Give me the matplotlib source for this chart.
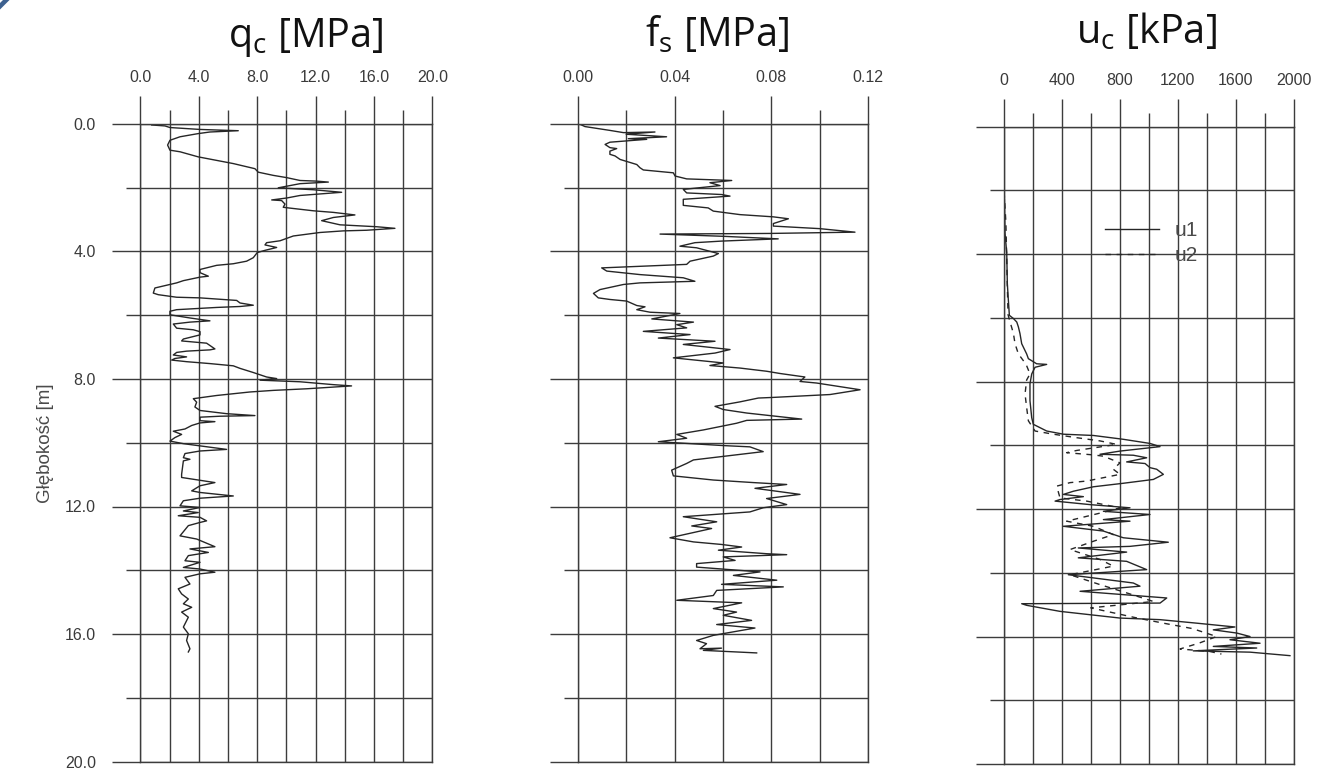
import numpy as np
import matplotlib
matplotlib.use("Agg")
import matplotlib.pyplot as plt
from matplotlib.patches import Polygon

## DATA ##

# cone resistance q_c [MPa] vs depth [m]
qc_depth = [0.04, 0.07, 0.12, 0.18, 0.22, 0.26, 0.31, 0.41, 0.52, 0.67,
            0.83, 0.88, 1.04, 1.15, 1.25, 1.41, 1.52, 1.62, 1.69, 1.78,
            1.80, 1.83, 1.88, 2.01, 2.07, 2.15, 2.25, 2.33, 2.39, 2.41,
            2.52, 2.62, 2.64, 2.73, 2.78, 2.86, 2.94, 3.04, 3.17, 3.23,
            3.28, 3.34, 3.36, 3.41, 3.52, 3.67, 3.73, 3.80, 3.88, 3.97,
            4.04, 4.20, 4.31, 4.39, 4.44, 4.57, 4.67, 4.78, 4.81, 4.92,
            4.99, 5.04, 5.15, 5.31, 5.36, 5.44, 5.46, 5.54, 5.62, 5.69,
            5.73, 5.76, 5.83, 5.88, 5.99, 6.09, 6.18, 6.22, 6.28, 6.41,
            6.46, 6.52, 6.62, 6.75, 6.81, 6.88, 7.06, 7.09, 7.13, 7.17,
            7.25, 7.31, 7.36, 7.41, 7.46, 7.52, 7.59, 7.67, 7.80, 7.94,
            7.99, 8.04, 8.09, 8.18, 8.22, 8.31, 8.36, 8.41, 8.52, 8.62,
            8.73, 8.88, 8.99, 9.09, 9.15, 9.17, 9.20, 9.31, 9.34, 9.38,
            9.46, 9.57,
            9.64, 9.74, 9.84, 9.95, 10.03, 10.10, 10.21, 10.26, 10.34, 10.47,
            10.52, 10.57, 10.99, 11.09, 11.18, 11.25, 11.35, 11.51, 11.56, 11.67,
            11.74, 11.82, 11.98, 12.03, 12.14, 12.19, 12.29, 12.34, 12.45, 12.50,
            12.60, 12.92, 13.02, 13.26, 13.33, 13.44, 13.54, 13.70, 13.75, 13.91,
            13.96, 14.06, 14.11, 14.22, 14.43, 14.58, 14.74, 14.90, 15.05, 15.16,
            15.31, 15.47, 15.78, 15.99, 16.20, 16.46, 16.56]
qc_val = [0.78, 1.69, 2.03, 4.09, 6.71, 4.77, 3.97, 2.72, 2.03, 1.87,
          2.03, 2.72, 3.97, 5.23, 6.37, 7.85, 8.08, 9.11, 10.02, 10.94,
          12.08, 12.88, 10.94, 9.45, 11.85, 13.79, 10.94, 10.02, 9.00, 9.68,
          9.91, 9.79, 10.14, 11.85, 13.22, 14.70, 13.22, 12.42, 13.68, 16.19,
          17.44, 15.50, 13.90, 12.31, 10.48, 9.57, 8.65, 8.54, 9.34, 8.54,
          8.01, 7.74, 7.28, 6.37, 5.23, 4.09, 4.09, 4.66, 4.09, 2.95,
          2.49, 2.03, 1.00, 0.89, 1.23, 2.49, 4.09, 6.60, 6.83, 7.74,
          6.83, 5.23, 2.49, 2.03, 2.03, 3.40, 4.77, 3.40, 2.26, 2.49,
          3.63, 4.09, 4.09, 2.95, 2.83, 4.54, 5.11, 4.77, 3.17, 2.49,
          2.26, 3.17, 2.37, 2.15, 3.17, 4.77, 6.37, 6.83, 7.74, 8.65,
          9.34, 8.20, 10.94, 13.22, 14.47, 11.39, 9.11, 7.51, 5.23, 3.63,
          3.86, 3.74, 4.09, 5.91, 7.85, 5.46, 4.09, 4.09, 5.11, 4.09,
          3.52, 3.06,
          2.26, 2.83, 2.37, 2.03, 2.95, 4.09, 5.91, 4.09, 3.06, 2.95,
          3.40, 2.95, 2.83, 2.83, 4.09, 5.11, 4.09, 3.52, 4.09, 6.37,
          4.09, 2.95, 2.72, 4.09, 2.95, 3.97, 2.60, 4.09, 4.54, 4.09,
          3.29, 2.72, 3.86, 5.11, 3.40, 4.66, 3.29, 3.06, 4.09, 2.95,
          4.09, 5.11, 4.09, 3.06, 3.40, 2.60, 2.83, 3.29, 2.95, 3.52,
          2.83, 3.29, 2.95, 3.29, 3.17, 3.40, 3.29]

# sleeve friction f_s [MPa]
fs_depth = [0.02, 0.09, 0.21, 0.28, 0.26, 0.33, 0.41, 0.47, 0.49, 0.58,
            0.65, 0.75, 0.78, 0.86, 0.96, 1.01, 1.12, 1.28, 1.38, 1.45,
            1.54, 1.64, 1.73, 1.77, 1.78, 1.85, 1.94, 2.06, 2.17, 2.22,
            2.27, 2.37, 2.56, 2.64, 2.74, 2.85, 2.92, 2.98, 3.13, 3.21,
            3.29, 3.40, 3.44, 3.46, 3.53, 3.61, 3.68, 3.73, 3.84, 3.89,
            4.07, 4.15, 4.31, 4.41, 4.52, 4.62, 4.73, 4.83, 4.94, 4.99,
            5.04, 5.20, 5.32, 5.46, 5.51, 5.56, 5.70, 5.74, 5.83, 5.91,
            5.95, 6.12, 6.22, 6.30, 6.40, 6.51, 6.61, 6.72, 6.82, 6.92,
            7.08, 7.19, 7.34, 7.50, 7.58, 7.66, 7.76, 7.83, 7.94, 8.08,
            8.13, 8.34, 8.49, 8.58, 8.60, 8.72, 8.86, 8.96, 9.07, 9.26,
            9.30, 9.39, 9.60, 9.74, 9.86, 9.97, 10.09, 10.13, 10.28, 10.54,
            10.65, 10.86, 11.04, 11.17, 11.25, 11.31, 11.43, 11.62, 11.75, 11.94,
            12.04, 12.17, 12.32, 12.48, 12.61, 12.69, 12.98, 13.11, 13.19, 13.27,
            13.37, 13.48, 13.51, 13.58, 13.69, 13.79, 13.90, 14.05, 14.16, 14.31,
            14.44, 14.52, 14.63, 14.79, 14.94, 15.02, 15.20, 15.31, 15.41, 15.57,
            15.70, 15.81, 16.04, 16.20, 16.30, 16.46, 16.44, 16.51, 16.59]
fs_val = [0.0010, 0.0030, 0.0133, 0.0189, 0.0319, 0.0200, 0.0367, 0.0209, 0.0285, 0.0133,
          0.0113, 0.0133, 0.0161, 0.0133, 0.0133, 0.0154, 0.0175, 0.0244, 0.0257, 0.0271,
          0.0395, 0.0402, 0.0450, 0.0601, 0.0636, 0.0546, 0.0588, 0.0436, 0.0450, 0.0594,
          0.0629, 0.0436, 0.0436, 0.0539, 0.0560, 0.0670, 0.0808, 0.0870, 0.0808, 0.0808,
          0.1000, 0.1145, 0.0794, 0.0340, 0.0601, 0.0828, 0.0594, 0.0484, 0.0422, 0.0491,
          0.0581, 0.0560, 0.0464, 0.0450, 0.0099, 0.0120, 0.0257, 0.0436, 0.0484, 0.0257,
          0.0189, 0.0092, 0.0065, 0.0085, 0.0133, 0.0202, 0.0244, 0.0278, 0.0244, 0.0299,
          0.0422, 0.0306, 0.0478, 0.0409, 0.0450, 0.0271, 0.0464, 0.0333, 0.0567, 0.0436,
          0.0629, 0.0567, 0.0395, 0.0601, 0.0546, 0.0670, 0.0780, 0.0835, 0.0938, 0.0918,
          0.0987, 0.1166, 0.1042, 0.0808, 0.0746, 0.0670, 0.0567, 0.0601, 0.0698, 0.0925,
          0.0698, 0.0656, 0.0519, 0.0409, 0.0450, 0.0333, 0.0601, 0.0711, 0.0766, 0.0478,
          0.0450, 0.0388, 0.0395, 0.0560, 0.0725, 0.0863, 0.0732, 0.0918, 0.0780, 0.0863,
          0.0766, 0.0711, 0.0436, 0.0574, 0.0471, 0.0553, 0.0381, 0.0478, 0.0594, 0.0677,
          0.0581, 0.0780, 0.0863, 0.0601, 0.0650, 0.0491, 0.0491, 0.0753, 0.0643, 0.0822,
          0.0594, 0.0849, 0.0574, 0.0560, 0.0409, 0.0677, 0.0560, 0.0656, 0.0601, 0.0718,
          0.0574, 0.0732, 0.0560, 0.0491, 0.0532, 0.0505, 0.0594, 0.0519, 0.0739]

# pore pressure u1, u2 [kPa]
u1_depth = [2.02, 2.28, 3.34, 3.97, 4.92, 5.44, 5.92, 6.02, 6.13, 6.28,
            6.49, 6.81, 7.13, 7.28, 7.44, 7.46, 7.55, 7.76, 8.07, 8.60,
            9.13, 9.34, 9.55, 9.65, 9.69, 9.81, 9.94, 10.04, 10.18, 10.28,
            10.31, 10.39, 10.52, 10.57, 10.70, 10.75, 10.91, 11.07, 11.19, 11.30,
            11.44, 11.54, 11.61, 11.70, 11.75, 11.86, 11.96, 12.07, 12.17, 12.33,
            12.38, 12.54, 12.69, 12.90, 13.04, 13.17, 13.22, 13.35, 13.53, 13.64,
            13.90, 14.06, 14.16, 14.32, 14.42, 14.58, 14.79, 14.95, 14.97, 15.02,
            15.21, 15.42, 15.47, 15.58, 15.70, 15.79, 15.89, 16.00, 16.10, 16.21,
            16.31, 16.36, 16.42, 16.45, 16.49, 16.60]
u1_val = [0, 5, 9, 21, 25, 32, 39, 67, 90, 101,
          112, 124, 158, 170, 227, 296, 216, 193, 181, 181,
          193, 204, 296, 411, 618, 824, 1008, 1077, 801, 663,
          893, 985, 847, 974, 1008, 1054, 1100, 1031, 824, 618,
          480, 411, 549, 388, 354, 595, 870, 687, 1008, 687,
          870, 411, 687, 824, 1134, 870, 514, 847, 514, 847,
          985, 445, 618, 893, 939, 526, 1123, 1077, 124, 158,
          388, 801, 1077, 1329, 1593, 1444, 1605, 1697, 1559, 1766,
          1444, 1743, 1444, 1306, 1697, 1972]

u2_depth = [2.05, 3.00, 4.00, 5.00, 5.90, 6.13, 6.30, 6.49, 6.81, 7.13,
            7.34, 7.50, 7.76, 7.95, 8.39, 8.81, 9.23, 9.55, 9.65, 9.76,
            9.86, 9.97, 10.16, 10.23, 10.30, 10.34, 10.55, 10.75, 10.91, 11.12,
            11.17, 11.28, 11.65, 11.75, 11.96, 12.10, 12.38, 12.54, 12.80, 13.01,
            13.27, 13.58, 13.79, 14.06, 14.37, 14.63, 14.90, 15.10, 15.40, 15.58,
            15.75, 16.00, 16.20, 16.39, 16.47, 16.55]
u2_val = [3, 15, 20, 25, 30, 44, 55, 67, 78, 101,
          135, 158, 181, 158, 147, 158, 170, 216, 342, 503,
          663, 778, 503, 434, 618, 687, 801, 755, 801, 572,
          457, 365, 388, 572, 801, 687, 434, 618, 755, 618,
          457, 663, 755, 457, 663, 847, 1031, 600, 900, 1100,
          1300, 1467, 1350, 1215, 1421, 1500]

# axis ticks and labels
depth_ticks = [0, 4, 8, 12, 16, 20]
depth_labels = ['0.0', '4.0', '8.0', '12.0', '16.0', '20.0']
qc_ticks = [0, 4, 8, 12, 16, 20]
qc_labels = ['0.0', '4.0', '8.0', '12.0', '16.0', '20.0']
fs_ticks = [0.0, 0.04, 0.08, 0.12]
fs_labels = ['0.00', '0.04', '0.08', '0.12']
uc_ticks = [0, 400, 800, 1200, 1600, 2000]
uc_labels = ['0', '400', '800', '1200', '1600', '2000']

## STYLE ##
plt.rcParams['font.family'] = ['Liberation Sans', 'DejaVu Sans']
plt.rcParams['mathtext.fontset'] = 'custom'
plt.rcParams['mathtext.rm'] = 'Open Sans'
plt.rcParams['mathtext.it'] = 'Open Sans'

grid_c = '#3c3c3c'
line_c = '#262626'
text_c = '#3a3a3a'

fig = plt.figure(figsize=(13.17, 7.70), dpi=100)

W, H = 1317, 770
ax1 = fig.add_axes([140.3 / W, 1 - 761.7 / H, 292 / W, 638 / H])
ax2 = fig.add_axes([577.7 / W, 1 - 761.7 / H, 290.6 / W, 638 / H])
ax3 = fig.add_axes([1003.7 / W, 1 - 764 / H, 290.3 / W, 637.3 / H])


def style_panel(ax, xmax, ticks, labels, minor_step, show_depth):
    ax.set_xlim(0, xmax)
    ax.set_ylim(20, 0)
    ax.xaxis.tick_top()
    ax.set_xticks(ticks)
    ax.set_xticklabels(labels)
    ax.set_xticks(np.arange(0, xmax + minor_step / 2, minor_step), minor=True)
    ax.set_yticks(depth_ticks)
    ax.set_yticklabels(depth_labels)
    ax.set_yticks(np.arange(0, 21, 2), minor=True)
    ax.grid(which='both', color=grid_c, lw=1.0)
    ax.tick_params(which='major', length=20, width=1.0, color=grid_c)
    ax.tick_params(which='minor', length=10, width=1.0, color=grid_c)
    ax.tick_params(axis='x', which='major', pad=8, labelsize=11.5, labelcolor=text_c)
    ax.tick_params(axis='y', which='major', pad=12, labelsize=11.5, labelcolor=text_c,
                   labelleft=show_depth)
    for sp in ax.spines.values():
        sp.set_color(grid_c)
        sp.set_linewidth(1.0)


style_panel(ax1, 20, qc_ticks, qc_labels, 2, True)
style_panel(ax2, 0.12, fs_ticks, fs_labels, 0.02, False)
style_panel(ax3, 2000, uc_ticks, uc_labels, 200, False)

ax1.plot(qc_val, qc_depth, color=line_c, lw=1.0)
ax2.plot(fs_val, fs_depth, color=line_c, lw=1.0)
ax3.plot(u1_val, u1_depth, color=line_c, lw=1.0, label='u1')
ax3.plot(u2_val, u2_depth, color=line_c, lw=1.0, linestyle=(0, (4, 4)), label='u2')

leg = ax3.legend(loc='upper left', bbox_to_anchor=(0.349, 0.852), frameon=False,
                 borderpad=0, borderaxespad=0, handlelength=2.6, handletextpad=0.75,
                 labelspacing=0.3, fontsize=15, labelcolor='#4a4a4a')

# titles
title_kw = dict(ha='center', va='baseline', fontsize=28.5, color='#111111',
                family='Open Sans')
ax1.text(0.567, 1.121, r'$\mathrm{q_c}$ [MPa]', transform=ax1.transAxes, **title_kw)
ax2.text(0.479, 1.121, r'$\mathrm{f_s}$ [MPa]', transform=ax2.transAxes, **title_kw)
ax3.text(0.490, 1.131, r'$\mathrm{u_c}$ [kPa]', transform=ax3.transAxes, **title_kw)

fig.text(46 / W, 1 - 443 / H, 'Głębokość [m]', rotation=90, ha='center', va='center',
         fontsize=13.5, color='#4a4a4a')

# blue corner mark of the slide
corner = Polygon([(3 / W, 1.0), (9.5 / W, 1.0), (0.0, 1 - 9.5 / H), (0.0, 1 - 3 / H)],
                 closed=True, transform=fig.transFigure, color='#3d6190', lw=0)
fig.patches.append(corner)

fig.savefig('out.png', dpi=100)
